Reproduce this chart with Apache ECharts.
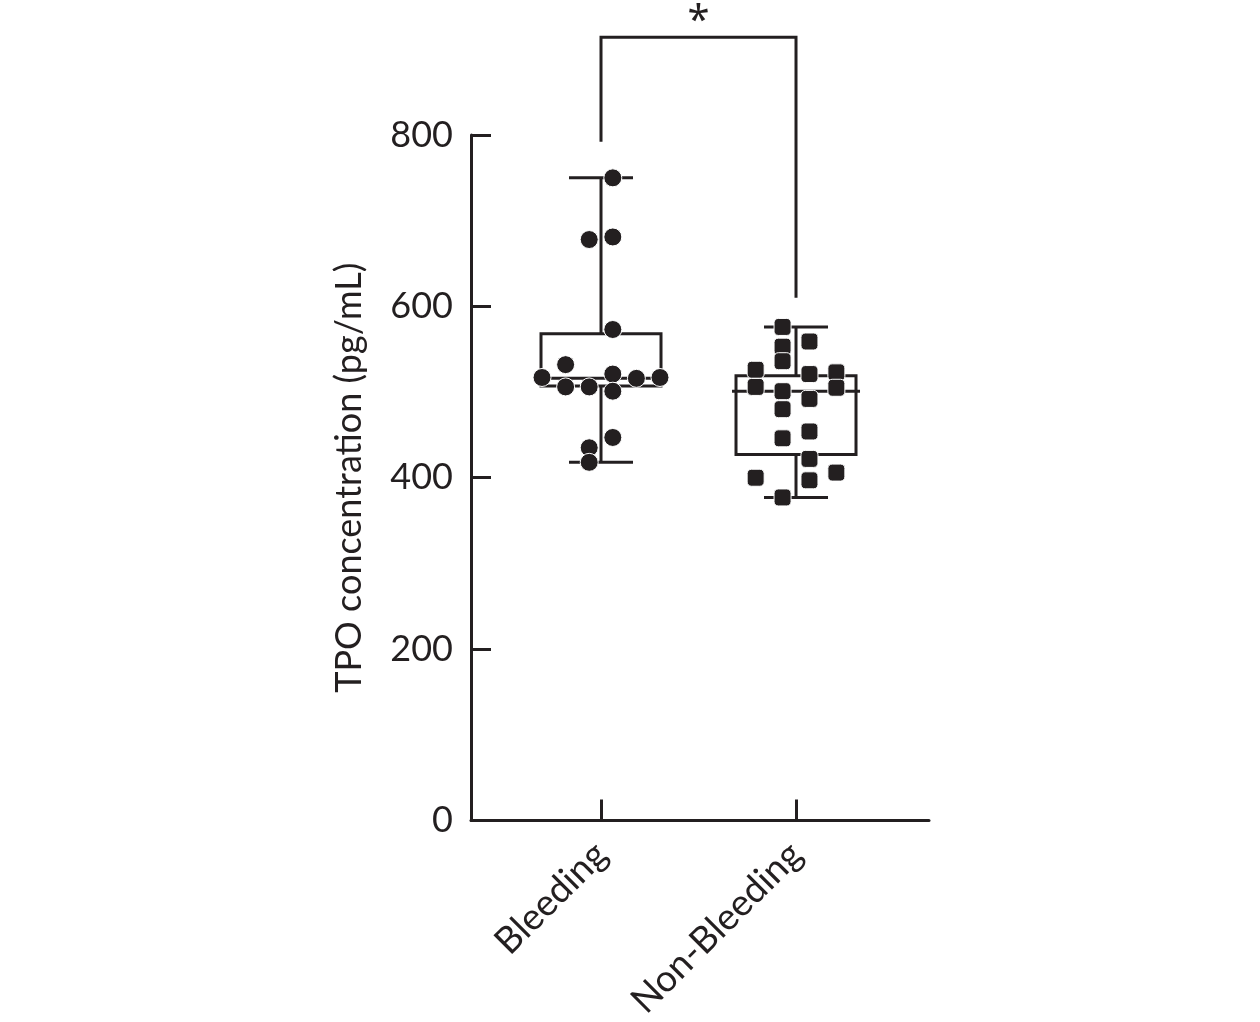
<!DOCTYPE html>
<html>
<head>
<meta charset="utf-8">
<script src="https://cdn.jsdelivr.net/npm/echarts@6/dist/echarts.min.js"></script>
<style>
  html, body { margin: 0; padding: 0; background: #fff; }
  #chart { width: 1260px; height: 1022px; }
</style>
</head>
<body>
<div id="chart"></div>
<script>
// groups and tick labels
let groups = ['Bleeding', 'Non-Bleeding'];
let yTicks = [0, 200, 400, 600, 800];

// individual values, with their swarm column (in half steps)
let bleedingValues = [750, 678, 681, 573, 532, 517, 521, 516, 517, 506, 506, 501, 447, 435, 418];
let bleedingCols   = [0.5, -0.5, 0.5, 0.5, -1.5, -2.5, 0.5, 1.5, 2.5, -1.5, -0.5, 0.5, 0.5, -0.5, -0.5];
let nonBleedingValues = [576, 559, 553, 536, 526, 506, 521, 523, 505, 501, 492, 480, 454, 446, 422, 400, 406, 397, 377];
let nonBleedingCols   = [-0.5, 0.5, -0.5, -0.5, -1.5, -1.5, 0.5, 1.5, 1.5, -0.5, 0.5, -0.5, 0.5, -0.5, 0.5, -1.5, 1.5, 0.5, -0.5];

// box stats: min, q1, median, q3, max
let bleedingBox = [418, 507, 516, 568, 750];
let nonBleedingBox = [377, 427, 501, 519, 576];

// significance bracket: left foot, right foot, top
let bracket = [792, 610, 914];
let sigLabel = '*';

let ink = '#231f20';
let myChart = echarts.init(document.getElementById('chart'));

function swarm(values, cols, center, step) {
    return values.map(function (v, i) {
        return [center + cols[i] * step, v];
    });
}

function renderBox(params, api) {
    let x = api.value(0);
    let pMin = api.coord([x, api.value(1)]);
    let pQ1 = api.coord([x, api.value(2)]);
    let pMed = api.coord([x, api.value(3)]);
    let pQ3 = api.coord([x, api.value(4)]);
    let pMax = api.coord([x, api.value(5)]);
    let half = 60, cap = 32, medHalf = api.value(6);
    let style = {stroke: ink, lineWidth: 3, fill: null};
    let cx = pMed[0];
    return {
        type: 'group',
        children: [
            {type: 'line', shape: {x1: cx, y1: pMax[1], x2: cx, y2: pQ3[1]}, style: style},
            {type: 'line', shape: {x1: cx, y1: pQ1[1], x2: cx, y2: pMin[1]}, style: style},
            {type: 'line', shape: {x1: cx - cap, y1: pMax[1], x2: cx + cap, y2: pMax[1]}, style: style},
            {type: 'line', shape: {x1: cx - cap, y1: pMin[1], x2: cx + cap, y2: pMin[1]}, style: style},
            {type: 'rect', shape: {x: cx - half, y: pQ3[1], width: half * 2, height: pQ1[1] - pQ3[1]}, style: style},
            {type: 'line', shape: {x1: cx - medHalf, y1: pMed[1], x2: cx + medHalf, y2: pMed[1]}, style: style}
        ]
    };
}

function renderBracket(params, api) {
    let a = api.coord([1, api.value(0)]);
    let b = api.coord([2, api.value(1)]);
    let topL = api.coord([1, api.value(2)]);
    let topR = api.coord([2, api.value(2)]);
    return {
        type: 'group',
        children: [
            {
                type: 'polyline',
                shape: {points: [a, topL, topR, b]},
                style: {stroke: ink, lineWidth: 3, fill: null}
            },
            {
                type: 'text',
                style: {
                    text: sigLabel, x: (topL[0] + topR[0]) / 2, y: topL[1] - 36,
                    textAlign: 'center', textVerticalAlign: 'top',
                    fontSize: 40, fontFamily: 'Noto Sans', fill: ink
                }
            }
        ]
    };
}

let option = {
    animation: false,
    backgroundColor: '#fff',
    grid: {left: 471, right: 331, top: 135, bottom: 201, containLabel: false},
    xAxis: {
        type: 'value',
        min: 0.3333,
        max: 2.682,
        splitLine: {show: false},
        axisLine: {onZero: false, lineStyle: {color: ink, width: 3}},
        axisTick: {show: true, inside: true, length: 21, customValues: [1, 2], lineStyle: {color: ink, width: 3}},
        axisLabel: {
            customValues: [1, 2],
            rotate: 45,
            margin: 28,
            fontSize: 37,
            fontFamily: 'Lato',
            color: ink,
            formatter: function (v) { return groups[Math.round(v) - 1] || ''; }
        }
    },
    yAxis: {
        type: 'value',
        min: 0,
        max: 800,
        interval: 200,
        name: 'TPO concentration (pg/mL)',
        nameLocation: 'middle',
        nameGap: 104,
        nameTextStyle: {fontSize: 36, fontFamily: 'Lato', color: ink},
        splitLine: {show: false},
        axisLine: {show: true, lineStyle: {color: ink, width: 3}},
        axisTick: {show: true, inside: true, length: 20, lineStyle: {color: ink, width: 3}},
        axisLabel: {
            margin: 18, fontSize: 36, fontFamily: 'Lato', color: ink,
            formatter: function (v) { return yTicks.indexOf(v) >= 0 ? String(v) : ''; }
        }
    },
    series: [
        {
            type: 'custom',
            renderItem: renderBox,
            encode: {x: 0, y: [1, 2, 3, 4, 5]},
            data: [
                [1].concat(bleedingBox, [60]),
                [2].concat(nonBleedingBox, [64])
            ],
            z: 1
        },
        {
            type: 'scatter',
            symbol: 'circle',
            symbolSize: 18,
            itemStyle: {color: ink, opacity: 1, borderColor: '#fff', borderWidth: 1},
            data: swarm(bleedingValues, bleedingCols, 1, 0.121),
            z: 3
        },
        {
            type: 'scatter',
            symbol: 'roundRect',
            symbolSize: 17,
            itemStyle: {color: ink, opacity: 1, borderColor: '#fff', borderWidth: 1},
            data: swarm(nonBleedingValues, nonBleedingCols, 2, 0.138),
            z: 3
        },
        {
            type: 'custom',
            renderItem: renderBracket,
            clip: false,
            encode: {y: [0, 1, 2]},
            data: [bracket],
            z: 2
        }
    ]
};
myChart.setOption(option);
</script>
</body>
</html>
